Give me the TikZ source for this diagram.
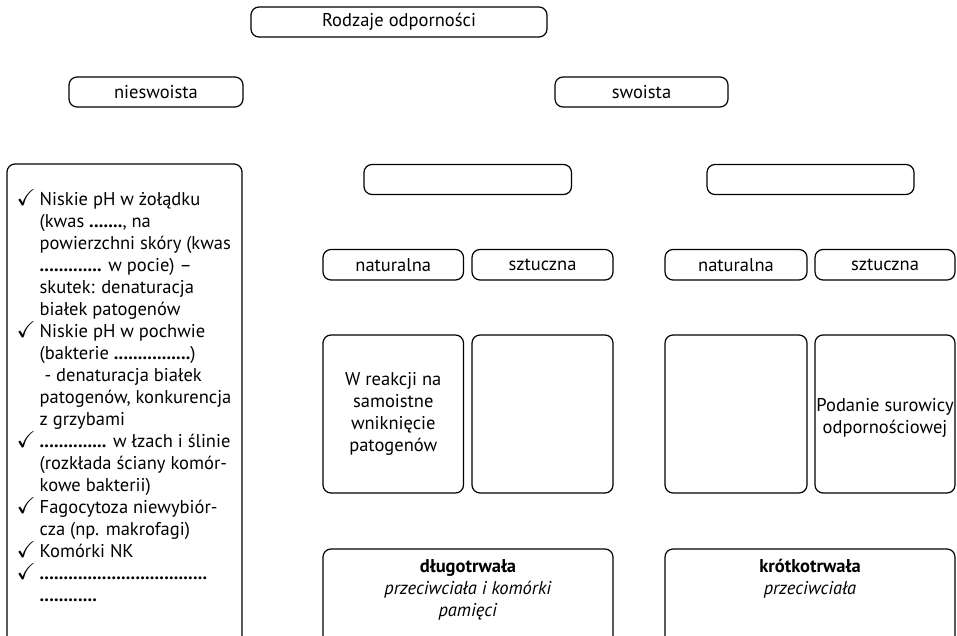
\documentclass[tikz,border=0pt]{standalone}
\usepackage{amssymb}
\usepackage{fontspec}
\setmainfont{PT Sans}
\begin{document}
\begin{tikzpicture}[x=1pt,y=-1pt,
  box/.style={draw, rounded corners=8pt, line width=1.2pt, inner sep=0pt, outer sep=0pt},
  txt/.style={font=\fontsize{18.5}{22}\selectfont, align=center, inner sep=0pt}]
\useasboundingbox (0,0) rectangle (957,636);
\newcommand{\bx}[6]{\node[box, minimum width=#4, minimum height=#5, font=\fontsize{18.5}{22}\selectfont, align=center] (#1) at (#2,#3) {#6};}
\bx{title}{399}{22}{296}{30}{Rodzaje odporności}
\bx{nies}{156}{92}{174}{30}{nieswoista}
\bx{swo}{641.5}{92}{173}{30}{swoista}
\bx{left}{124.5}{412}{235}{496}{}
\bx{e1}{467.75}{179.5}{207.5}{30}{}
\bx{e2}{810.5}{179.5}{207}{30}{}
\bx{n1}{393.25}{264.75}{140.5}{30.5}{naturalna}
\bx{s1}{542.5}{264.75}{141}{30.5}{sztuczna}
\bx{n2}{736}{264.75}{142}{30.5}{naturalna}
\bx{s2}{885}{264.75}{140}{30.5}{sztuczna}
\bx{t1}{393.25}{414}{140.5}{158}{}
\bx{t2}{542.5}{414}{141}{158}{}
\bx{t3}{736}{414}{142}{158}{}
\bx{t4}{885}{414}{140}{158}{}
\bx{b1}{468}{614.5}{290}{131}{}
\bx{b2}{810}{614.5}{290}{131}{}
\node[txt] (t1t) at (t1.center) {W reakcji na\\samoistne\\wniknięcie\\patogenów};
\node[txt] (t4t) at (885,418) {Podanie surowicy\\odpornościowej};
\node[txt, anchor=north] (b1t) at (468,559) {\textbf{długotrwała}\\\textit{przeciwciała i komórki}\\\textit{pamięci}};
\node[txt, anchor=north] (b2t) at (810,559) {\textbf{krótkotrwała}\\\textit{przeciwciała}};
\newcommand{\ck}{\llap{\smash{\fontsize{23}{22}\selectfont$\checkmark$}\hspace{4pt}}}
\newcommand{\dt}[1]{\textbf{#1}}
\node[txt, align=left, anchor=north west] (lt) at (39.5,192.5) {%
\ck Niskie pH w żołądku\\
(kwas \dt{.......}, na\\
powierzchni skóry (kwas\\
\dt{.............} w pocie) –\\
skutek: denaturacja\\
białek patogenów\\
\ck Niskie pH w pochwie\\
(bakterie \dt{................})\\
\ - denaturacja białek\\
patogenów, konkurencja\\
z grzybami\\
\ck\dt{..............} w łzach i ślinie\\
(rozkłada ściany komór-\\
kowe bakterii)\\
\ck Fagocytoza niewybiór-\\
cza (np. makrofagi)\\
\ck Komórki NK\\
\ck\dt{...................................}\\
\dt{............}};
\end{tikzpicture}
\end{document}
